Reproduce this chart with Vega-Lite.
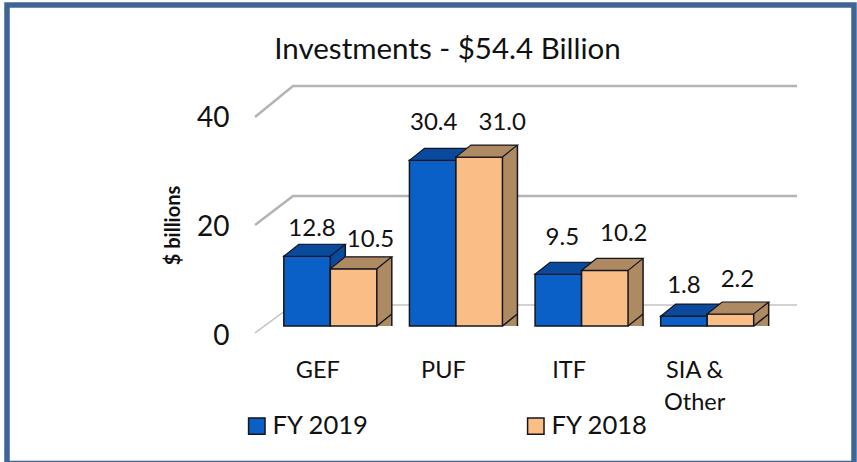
{
"$schema":"https://vega.github.io/schema/vega-lite/v6.json",
"width":847,"height":458.5,
"autosize":{"type":"none"},
"padding":{"left":7,"top":5,"right":3,"bottom":-1.5},
"background":"white",
"view":{"stroke":"#3f6596","strokeWidth":5.5,"fill":"white"},
"config":{"font":"Lato"},
"title":{"text":"Investments - $54.4 Billion","font":"Lato","fontSize":29.5,"fontWeight":"normal","color":"#111111","anchor":"middle","offset":-60,"dx":17},
"data":{"values":[
{"category":"GEF","series":"FY 2019","value":12.8},
{"category":"GEF","series":"FY 2018","value":10.5},
{"category":"PUF","series":"FY 2019","value":30.4},
{"category":"PUF","series":"FY 2018","value":31.0},
{"category":"ITF","series":"FY 2019","value":9.5},
{"category":"ITF","series":"FY 2018","value":10.2},
{"category":"SIA & Other","series":"FY 2019","value":1.8},
{"category":"SIA & Other","series":"FY 2018","value":2.2}
]},
"resolve":{"scale":{"x":"independent"},"axis":{"x":"independent"}},
"layer":[
{"data":{"values":[
{"line":"40","pos":248,"level":38.35},{"line":"40","pos":286,"level":44.04},{"line":"40","pos":790,"level":44.04},
{"line":"20","pos":248,"level":18.53},{"line":"20","pos":286,"level":23.85},{"line":"20","pos":790,"level":23.85}
]},
"mark":{"type":"line","color":"#b4b4b4","strokeWidth":2.5},
"encoding":{
"x":{"field":"pos","type":"quantitative","scale":{"domain":[0,847],"range":[0,847],"nice":false,"zero":false},"axis":null},
"y":{"field":"level","type":"quantitative","scale":{"domain":[-25.229,58.899],"nice":false,"zero":false},
"axis":{"values":[0,20,40],"format":"d","domain":false,"ticks":false,"grid":false,"offset":-222,"labelPadding":0,"labelOffset":10,"labelFont":"Lato","labelFontSize":28,"labelColor":"#111111","title":"$ billions","titleFont":"Lato","titleFontSize":20,"titleFontWeight":"bold","titleColor":"#111111","titleX":-46,"titleY":220,"titleAngle":-90}},
"detail":{"field":"line"}}},
{"data":{"values":[
{"line":"0","pos":248,"level":-1.28},{"line":"0","pos":286,"level":3.85},{"line":"0","pos":790,"level":3.85}
]},
"mark":{"type":"line","color":"#c4c4c4","strokeWidth":1.5},
"encoding":{
"x":{"field":"pos","type":"quantitative","scale":{"domain":[0,847],"range":[0,847],"nice":false,"zero":false},"axis":null},
"y":{"field":"level","type":"quantitative"},
"detail":{"field":"line"}}},
{"encoding":{
"x":{"field":"category","type":"nominal","sort":["GEF","PUF","ITF","SIA & Other"],
"scale":{"range":[260.5,763],"paddingInner":0,"paddingOuter":0},
"axis":{"orient":"bottom","offset":-105,"domain":false,"ticks":false,"labelPadding":0,"labelOffset":-12.5,"labelAngle":0,"title":null,"labelFont":"Lato","labelFontSize":23.5,"labelColor":"#111111","labelBaseline":"top","labelLineHeight":32,"labelExpr":"datum.label==='SIA & Other'?['SIA &','Other']:datum.label"}},
"y":{"field":"value","type":"quantitative","stack":null}
},
"layer":[
{"transform":[{"filter":"datum.series==='FY 2019'"}],"mark":{"type":"bar","color":"#0a4a9c","width":46.5,"xOffset":-8.25,"yOffset":-12}},
{"transform":[{"filter":"datum.series==='FY 2019'"}],"mark":{"type":"rule","color":"#15151f","strokeWidth":1.5,"xOffset":15,"yOffset":-12},"encoding":{"y2":{"datum":0}}},
{"transform":[{"filter":"datum.series==='FY 2019'"}],"mark":{"type":"bar","width":46.5,"xOffset":-23.25,"stroke":"#15151f","strokeWidth":1.5},
"encoding":{"color":{"field":"series","type":"nominal","scale":{"domain":["FY 2019","FY 2018"],"range":["#0a60c6","#fabd85"]},
"legend":{"orient":"none","legendX":237,"legendY":408,"direction":"horizontal","title":null,"symbolType":"square","symbolSize":270,"symbolStrokeColor":"#15151f","symbolStrokeWidth":1.5,"labelFont":"Lato","labelFontSize":25.6,"labelColor":"#111111","columnPadding":154,"labelOffset":3}}}},
{"transform":[{"filter":"datum.series==='FY 2019'"}],"mark":{"type":"point","filled":true,"size":4,"shape":"M-23.25,0L23.25,0L38.25,-12L-8.25,-12Z","xOffset":-23.25,"fill":"#0a4a9c","stroke":"#15151f","strokeWidth":1.2,"opacity":1}},
{"transform":[{"filter":"datum.series==='FY 2018'"}],"mark":{"type":"bar","color":"#ae8a62","width":46.5,"xOffset":38.25,"yOffset":-12}},
{"transform":[{"filter":"datum.series==='FY 2018'"}],"mark":{"type":"point","filled":true,"size":4,"shape":"M23.25,0L38.25,-12L23.25,-12Z","xOffset":23.25,"fill":"#ae8a62","strokeOpacity":0,"opacity":1},"encoding":{"y":{"datum":0,"type":"quantitative"}}},
{"transform":[{"filter":"datum.series==='FY 2018'"}],"mark":{"type":"point","filled":false,"size":4,"shape":"M23.25,0L38.25,-12","xOffset":23.25,"stroke":"#15151f","strokeWidth":1.5,"opacity":1},"encoding":{"y":{"datum":0,"type":"quantitative"}}},
{"transform":[{"filter":"datum.series==='FY 2018'"}],"mark":{"type":"rule","color":"#15151f","strokeWidth":1.5,"xOffset":61.5,"yOffset":-12},"encoding":{"y2":{"datum":0}}},
{"transform":[{"filter":"datum.series==='FY 2018'"}],"mark":{"type":"bar","width":46.5,"xOffset":23.25,"stroke":"#15151f","strokeWidth":1.5},
"encoding":{"color":{"field":"series","type":"nominal","scale":{"domain":["FY 2019","FY 2018"],"range":["#0a60c6","#fabd85"]}}}},
{"transform":[{"filter":"datum.series==='FY 2018'"}],"mark":{"type":"point","filled":true,"size":4,"shape":"M-23.25,0L23.25,0L38.25,-12L-8.25,-12Z","xOffset":23.25,"fill":"#ae8a62","stroke":"#15151f","strokeWidth":1.2,"opacity":1}},
{"transform":[{"filter":"datum.category==='GEF'&&datum.series==='FY 2019'"}],"mark":{"type":"text","font":"Lato","fontSize":24,"color":"#111111","baseline":"alphabetic","xOffset":-23.25,"dx":5,"dy":-20},"encoding":{"text":{"field":"value","format":".1f"}}},
{"transform":[{"filter":"datum.category==='GEF'&&datum.series==='FY 2018'"}],"mark":{"type":"text","font":"Lato","fontSize":24,"color":"#111111","baseline":"alphabetic","xOffset":23.25,"dx":17,"dy":-22},"encoding":{"text":{"field":"value","format":".1f"}}},
{"transform":[{"filter":"datum.category==='PUF'&&datum.series==='FY 2019'"}],"mark":{"type":"text","font":"Lato","fontSize":24,"color":"#111111","baseline":"alphabetic","xOffset":-23.25,"dx":1,"dy":-30},"encoding":{"text":{"field":"value","format":".1f"}}},
{"transform":[{"filter":"datum.category==='PUF'&&datum.series==='FY 2018'"}],"mark":{"type":"text","font":"Lato","fontSize":24,"color":"#111111","baseline":"alphabetic","xOffset":23.25,"dx":23,"dy":-27},"encoding":{"text":{"field":"value","format":".1f"}}},
{"transform":[{"filter":"datum.category==='ITF'&&datum.series==='FY 2019'"}],"mark":{"type":"text","font":"Lato","fontSize":24,"color":"#111111","baseline":"alphabetic","xOffset":-23.25,"dx":4,"dy":-29},"encoding":{"text":{"field":"value","format":".1f"}}},
{"transform":[{"filter":"datum.category==='ITF'&&datum.series==='FY 2018'"}],"mark":{"type":"text","font":"Lato","fontSize":24,"color":"#111111","baseline":"alphabetic","xOffset":23.25,"dx":19,"dy":-29},"encoding":{"text":{"field":"value","format":".1f"}}},
{"transform":[{"filter":"datum.category==='SIA & Other'&&datum.series==='FY 2019'"}],"mark":{"type":"text","font":"Lato","fontSize":24,"color":"#111111","baseline":"alphabetic","xOffset":-23.25,"dx":0,"dy":-23},"encoding":{"text":{"field":"value","format":".1f"}}},
{"transform":[{"filter":"datum.category==='SIA & Other'&&datum.series==='FY 2018'"}],"mark":{"type":"text","font":"Lato","fontSize":24,"color":"#111111","baseline":"alphabetic","xOffset":23.25,"dx":7,"dy":-27},"encoding":{"text":{"field":"value","format":".1f"}}}
]}
]}
